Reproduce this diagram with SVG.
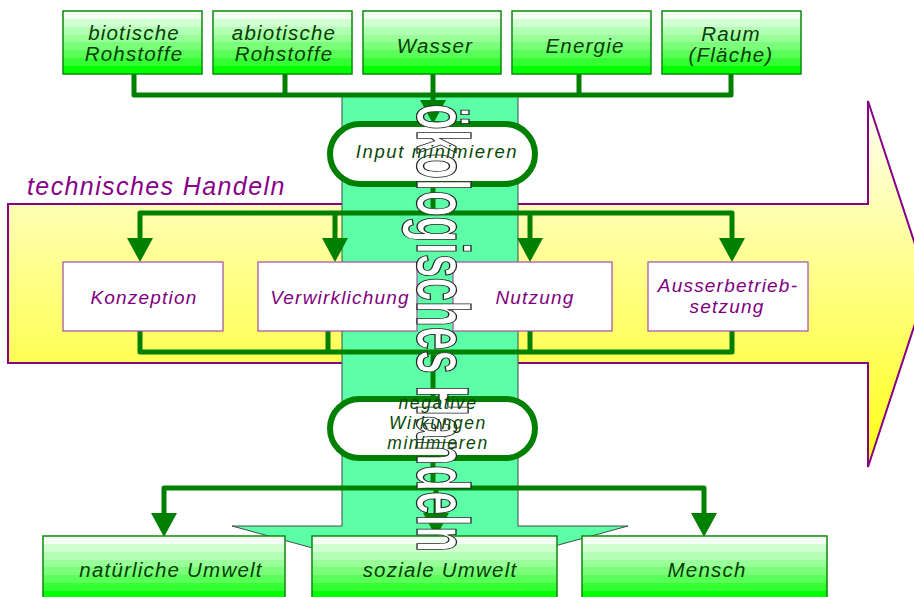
<svg xmlns="http://www.w3.org/2000/svg" width="914" height="597" viewBox="0 0 914 597">
  <defs>
    <!-- banded green fill of the resource / affected boxes -->
    <linearGradient id="greenBands" x1="0" y1="0" x2="0" y2="1">
      <stop offset="0" stop-color="#f2fff2"/><stop offset="0.125" stop-color="#f2fff2"/>
      <stop offset="0.125" stop-color="#d2ffd2"/><stop offset="0.25" stop-color="#d2ffd2"/>
      <stop offset="0.25" stop-color="#b3ffb3"/><stop offset="0.375" stop-color="#b3ffb3"/>
      <stop offset="0.375" stop-color="#99ff99"/><stop offset="0.5" stop-color="#99ff99"/>
      <stop offset="0.5" stop-color="#7bff7b"/><stop offset="0.625" stop-color="#7bff7b"/>
      <stop offset="0.625" stop-color="#5aff5a"/><stop offset="0.75" stop-color="#5aff5a"/>
      <stop offset="0.75" stop-color="#33ff33"/><stop offset="0.875" stop-color="#33ff33"/>
      <stop offset="0.875" stop-color="#00ff00"/><stop offset="1" stop-color="#00ff00"/>
    </linearGradient>
    <linearGradient id="yellowFade" x1="0" y1="0" x2="0" y2="1">
      <stop offset="0" stop-color="#fffff4"/>
      <stop offset="1" stop-color="#ffff14"/>
    </linearGradient>
    <marker id="arrow" markerUnits="userSpaceOnUse" markerWidth="24" markerHeight="26"
            viewBox="0 0 24 26" refX="18" refY="13" orient="auto">
      <path d="M0,0 L24,13 L0,26 Z" fill="#008000"/>
    </marker>
    <style>
      .gbox { fill: url(#greenBands); stroke: #0b8a0b; stroke-width: 1.5; }
      .pbox { fill: #ffffff; stroke: #a24ca2; stroke-width: 1.2; }
      .cap  { fill: #ffffff; stroke: #008000; stroke-width: 6; }
      .conn { fill: none; stroke: #008000; stroke-width: 5; stroke-linejoin: round; }
      .arr  { marker-end: url(#arrow); }
      text  { font-family: "Liberation Sans", Arial, sans-serif; font-style: italic; text-anchor: middle; }
      .gt   { font-size: 20.5px; letter-spacing: 1.2px; fill: #053d05; }
      .pt   { font-size: 19px; letter-spacing: 1.2px; fill: #7f007f; }
      .ct   { font-size: 18.5px; letter-spacing: 1.6px; fill: #064806; }
      .ct2  { font-size: 17.5px; letter-spacing: 1.6px; fill: #064806; }
      .big  { font-style: normal; font-weight: bold; text-anchor: start; font-size: 75px; fill: #ffffff; stroke: #262626; stroke-width: 1.3; }
    </style>
  </defs>

  <!-- wide yellow arrow: technical action -->
  <g id="technisches-handeln">
    <path d="M8,204 H868 V101 L928,284 L868,467 V363 H8 Z" fill="url(#yellowFade)" stroke="#880088" stroke-width="2"/>
    <text x="27" y="195" style="font-size:25px;letter-spacing:1.4px;fill:#880088;text-anchor:start">technisches Handeln</text>
  </g>

  <!-- downward green arrow: ecological action -->
  <g id="oekologisches-handeln">
    <path d="M342,95 H518 V526 H628 L430,580 L232,526 H342 Z" fill="#5cffa8" stroke="#3f4f45" stroke-width="1"/>
  </g>

  <!-- connectors -->
  <g id="connectors">
    <!-- resources into input reduction -->
    <path class="conn" d="M134,74 V95 H731 V74"/>
    <path class="conn" d="M285,74 V95"/>
    <path class="conn" d="M579,74 V95"/>
    <path class="conn arr" d="M433,74 V118"/>
    <!-- input reduction into the technical phases -->
    <path class="conn" d="M433,184 V213"/>
    <path class="conn arr" d="M433,213 H140 V256"/>
    <path class="conn arr" d="M433,213 H732 V256"/>
    <path class="conn arr" d="M335,213 V256"/>
    <path class="conn arr" d="M530,213 V256"/>
    <!-- technical phases into effect reduction -->
    <path class="conn" d="M140,331 V352 H732 V331"/>
    <path class="conn" d="M328,331 V352"/>
    <path class="conn" d="M530,331 V352"/>
    <path class="conn" d="M433,352 V399"/>
    <!-- effect reduction onto the affected areas -->
    <path class="conn" d="M433,458 V488"/>
    <path class="conn arr" d="M433,488 H164 V531"/>
    <path class="conn arr" d="M433,488 H704 V531"/>
    <path class="conn arr" d="M436,488 V531"/>
  </g>

  <!-- resources -->
  <g id="biotische-rohstoffe">
    <rect class="gbox" x="63" y="11" width="139" height="63"/>
    <text class="gt" x="134" y="40">biotische</text>
    <text class="gt" x="134" y="61">Rohstoffe</text>
  </g>
  <g id="abiotische-rohstoffe">
    <rect class="gbox" x="213" y="11" width="139" height="63"/>
    <text class="gt" x="284" y="40">abiotische</text>
    <text class="gt" x="284" y="61">Rohstoffe</text>
  </g>
  <g id="wasser">
    <rect class="gbox" x="363" y="11" width="138" height="63"/>
    <text class="gt" x="435" y="53">Wasser</text>
  </g>
  <g id="energie">
    <rect class="gbox" x="512" y="11" width="139" height="63"/>
    <text class="gt" x="585" y="53">Energie</text>
  </g>
  <g id="raum">
    <rect class="gbox" x="662" y="11" width="139" height="63"/>
    <text class="gt" x="731" y="41">Raum</text>
    <text class="gt" x="731" y="62">(Fläche)</text>
  </g>

  <!-- technical phases -->
  <g id="konzeption">
    <rect class="pbox" x="63" y="262" width="160" height="69"/>
    <text class="pt" x="144" y="304">Konzeption</text>
  </g>
  <g id="verwirklichung">
    <rect class="pbox" x="258" y="262" width="159" height="69"/>
    <text class="pt" x="340" y="304">Verwirklichung</text>
  </g>
  <g id="nutzung">
    <rect class="pbox" x="453" y="262" width="159" height="69"/>
    <text class="pt" x="535" y="304">Nutzung</text>
  </g>
  <g id="ausserbetriebsetzung">
    <rect class="pbox" x="648" y="262" width="160" height="69"/>
    <text class="pt" x="728" y="292">Ausserbetrieb-</text>
    <text class="pt" x="727" y="313">setzung</text>
  </g>

  <!-- affected areas -->
  <g id="natuerliche-umwelt">
    <rect class="gbox" x="43" y="536" width="242" height="63"/>
    <text class="gt" x="171" y="577">natürliche Umwelt</text>
  </g>
  <g id="soziale-umwelt">
    <rect class="gbox" x="312" y="536" width="245" height="63"/>
    <text class="gt" x="440" y="577">soziale Umwelt</text>
  </g>
  <g id="mensch">
    <rect class="gbox" x="582" y="536" width="245" height="63"/>
    <text class="gt" x="707" y="577">Mensch</text>
  </g>

  <!-- reduction steps -->
  <g id="input-minimieren">
    <rect class="cap" x="330" y="124" width="205" height="60" rx="30"/>
  </g>
  <g id="wirkungen-minimieren">
    <rect class="cap" x="330" y="399" width="205" height="59" rx="29.5"/>
  </g>

  <!-- title of the green arrow, running downwards -->
  <g id="oekologisches-handeln-label">
    <text class="big" transform="translate(417,104) rotate(90) scale(0.563,1)" x="0" y="0">ökologisches Handeln</text>
  </g>

  <!-- labels of the reduction steps -->
  <g id="input-minimieren-label">
    <text class="ct" x="437" y="158">Input minimieren</text>
  </g>
  <g id="wirkungen-minimieren-label">
    <text class="ct2" x="438" y="409">negative</text>
    <text class="ct2" x="438" y="429">Wirkungen</text>
    <text class="ct2" x="438" y="449">minimieren</text>
  </g>
</svg>
